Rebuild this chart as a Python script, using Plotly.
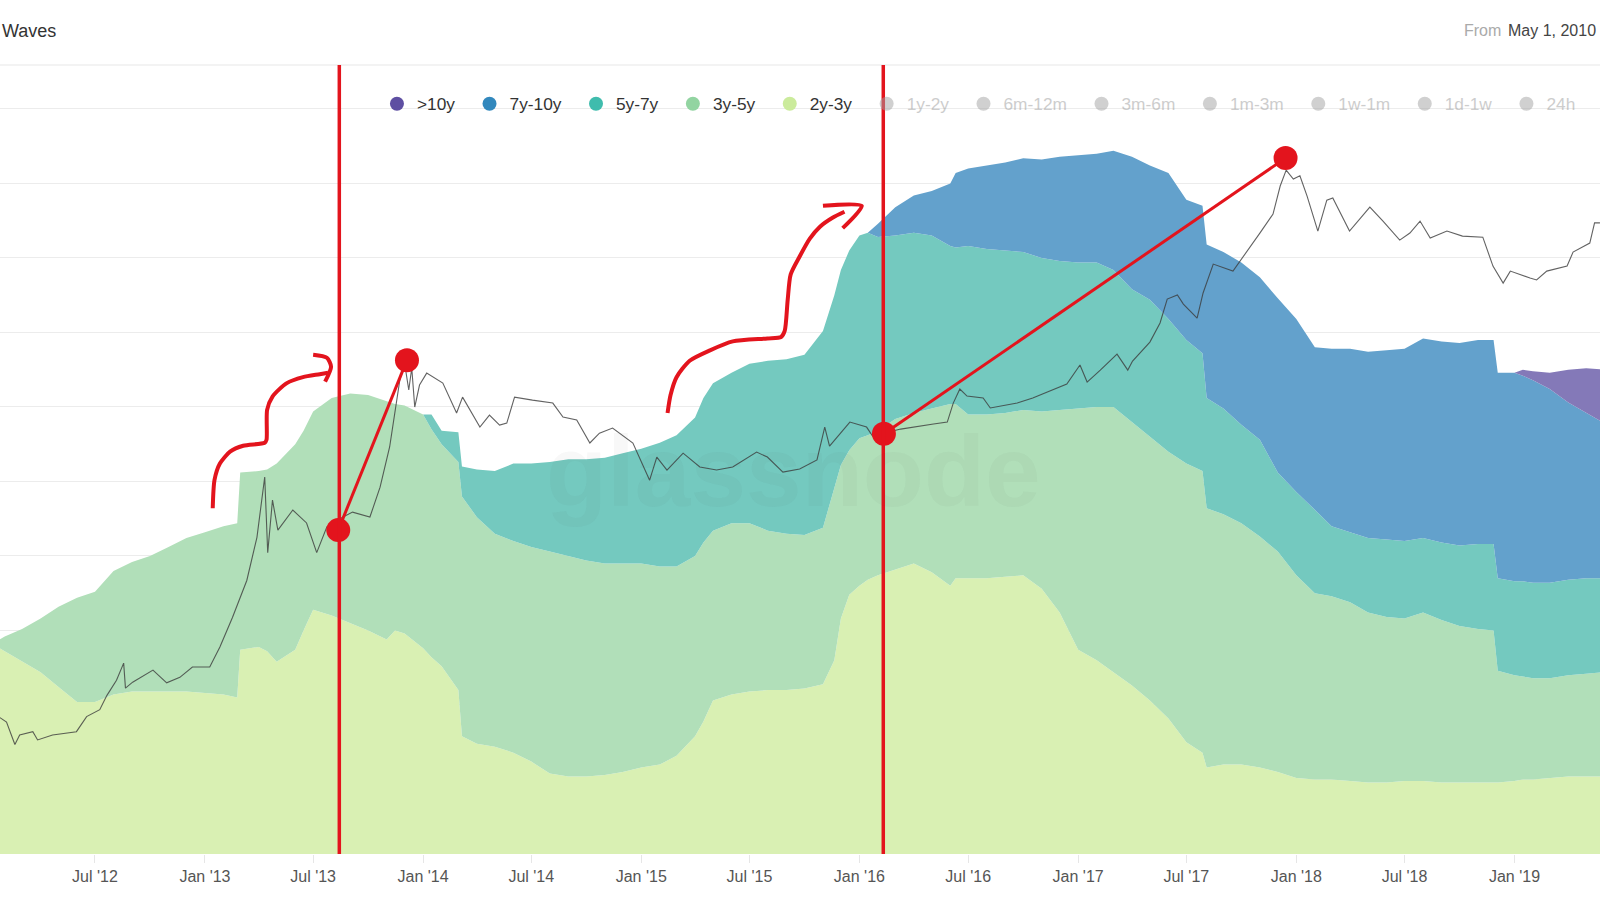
import plotly.graph_objects as go

# ---------------- data ----------------
dates = [
    "2012-01-15", "2012-02-01", "2012-03-01", "2012-04-01", "2012-05-01", "2012-06-01",
    "2012-07-01", "2012-08-01", "2012-09-01", "2012-10-01", "2012-11-01", "2012-12-01",
    "2013-01-01", "2013-02-01", "2013-02-24", "2013-03-01", "2013-04-01", "2013-04-15",
    "2013-05-01", "2013-06-01", "2013-06-15", "2013-07-01", "2013-08-01", "2013-09-01",
    "2013-10-01", "2013-11-01", "2013-11-15", "2013-12-01",
    "2014-01-01", "2014-01-15", "2014-02-01", "2014-03-01", "2014-03-07", "2014-04-01",
    "2014-05-01", "2014-06-01", "2014-07-01", "2014-08-01", "2014-09-01", "2014-10-01",
    "2014-11-01", "2014-12-01",
    "2015-01-01", "2015-02-01", "2015-03-01", "2015-04-01", "2015-04-15", "2015-05-01",
    "2015-06-01", "2015-07-01", "2015-08-01", "2015-09-01", "2015-10-01", "2015-11-01",
    "2015-11-20", "2015-12-01", "2015-12-15",
    "2016-01-01", "2016-01-15", "2016-02-01", "2016-03-01", "2016-04-01", "2016-05-01",
    "2016-06-01", "2016-06-10", "2016-07-01", "2016-08-01", "2016-09-01", "2016-10-01",
    "2016-11-01", "2016-12-01",
    "2017-01-01", "2017-02-01", "2017-03-01", "2017-04-01", "2017-05-01", "2017-06-01",
    "2017-07-01", "2017-07-28", "2017-08-04", "2017-09-01", "2017-10-01", "2017-11-01",
    "2017-12-01",
    "2018-01-01", "2018-02-01", "2018-03-01", "2018-04-01", "2018-05-01", "2018-06-01",
    "2018-07-01", "2018-08-01", "2018-09-01", "2018-10-01", "2018-11-01", "2018-11-27",
    "2018-12-04",
    "2019-01-01", "2019-01-15", "2019-02-01", "2019-03-01", "2019-04-01", "2019-05-01",
    "2019-06-01",
]

# share of supply (%) per age band
v_2y_3y = [
    14.0, 13.6, 12.9, 12.2, 11.2, 10.2, 10.2, 10.7, 10.9, 10.9, 10.9, 10.9,
    10.8, 10.7, 10.5, 13.7, 13.9, 13.6, 12.9, 13.7, 15.0, 16.4, 16.0, 15.5,
    15.0, 14.4, 15.0, 14.8,
    13.8, 13.2, 12.6, 11.0, 7.9, 7.4, 7.2, 6.8, 6.2, 5.4, 5.2, 5.2, 5.3, 5.5,
    5.8, 6.0, 6.6, 7.9, 8.9, 10.3, 10.7, 10.9, 11.0, 11.0, 11.1, 11.4, 13.0, 15.8, 17.4,
    18.0, 18.4, 18.7, 19.1, 19.5, 18.9, 18.0, 18.5, 18.5, 18.5, 18.6, 18.7, 17.8, 16.2,
    13.7, 13.0, 12.2, 11.3, 10.3, 9.1, 7.5, 6.8, 5.8, 6.0, 6.0, 5.8, 5.5,
    5.1, 5.0, 5.0, 4.9, 4.8, 4.8, 4.9, 4.9, 4.8, 4.8, 4.8, 4.8, 4.8,
    4.9, 5.0, 5.0, 5.1, 5.2, 5.2, 5.2,
]
v_3y_5y = [
    0.2, 1.0, 2.2, 3.6, 5.4, 7.0, 7.4, 8.3, 8.7, 9.1, 9.7, 10.3,
    10.8, 11.3, 11.7, 11.9, 11.8, 12.2, 13.3, 13.8, 13.4, 13.3, 14.6, 15.4,
    15.8, 16.0, 15.2, 15.3,
    15.7, 15.3, 14.9, 15.3, 16.1, 15.2, 14.3, 14.2, 14.4, 14.9, 14.8, 14.5, 14.2, 14.0,
    13.7, 13.3, 12.7, 12.1, 12.0, 11.4, 11.5, 11.3, 10.7, 10.5, 10.3, 10.5, 11.6, 10.3, 9.7,
    9.9, 9.7, 9.7, 10.1, 10.1, 11.0, 12.2, 11.7, 11.0, 11.0, 11.0, 11.1, 11.9, 13.6,
    16.2, 17.0, 17.8, 17.7, 17.7, 17.9, 18.7, 18.9, 17.4, 16.8, 16.2, 15.5, 14.8,
    13.6, 12.5, 12.3, 12.0, 11.4, 11.1, 10.9, 11.3, 10.9, 10.5, 10.3, 10.2, 7.5,
    7.1, 6.9, 6.8, 6.7, 6.8, 6.9, 7.0,
]
v_5y_7y = [
    0, 0, 0, 0, 0, 0, 0, 0, 0, 0, 0, 0,
    0, 0, 0, 0, 0, 0, 0, 0, 0, 0, 0, 0,
    0, 0, 0, 0,
    0, 1.0, 0.9, 2.0, 2.0, 3.2, 4.2, 5.2, 5.6, 6.0, 6.5, 6.8, 7.1, 7.4,
    7.7, 8.3, 8.8, 9.3, 9.7, 9.9, 10.1, 10.7, 11.4, 11.7, 12.1, 13.2, 12.9, 13.1, 13.4,
    13.6, 13.6, 13.0, 12.3, 12.1, 11.6, 10.6, 10.5, 11.3, 11.1, 10.9, 10.6, 10.3, 10.0,
    9.8, 9.7, 9.2, 8.9, 9.2, 8.9, 8.3, 7.9, 7.4, 7.1, 6.6, 6.5, 5.3,
    5.6, 5.6, 4.7, 4.7, 5.0, 5.2, 5.2, 5.0, 5.2, 5.4, 5.7, 5.8, 6.2,
    6.3, 6.4, 6.4, 6.4, 6.4, 6.4, 6.3,
]
v_7y_10y = [
    0, 0, 0, 0, 0, 0, 0, 0, 0, 0, 0, 0,
    0, 0, 0, 0, 0, 0, 0, 0, 0, 0, 0, 0,
    0, 0, 0, 0,
    0, 0, 0, 0, 0, 0, 0, 0, 0, 0, 0, 0, 0, 0,
    0, 0, 0, 0, 0, 0, 0, 0, 0, 0, 0, 0, 0, 0, 0,
    0, 0, 0.9, 1.9, 2.5, 3.0, 4.2, 5.0, 5.2, 5.6, 5.9, 6.3, 6.6, 7.0,
    7.2, 7.3, 8.0, 8.9, 9.0, 9.8, 9.4, 9.9, 10.3, 10.5, 10.9, 10.9, 11.7,
    11.6, 10.9, 11.9, 12.3, 12.5, 12.7, 12.9, 13.4, 13.5, 13.6, 13.7, 13.7, 13.8,
    14.0, 13.8, 13.6, 13.0, 11.9, 11.1, 10.4,
]
v_10y_plus = [
    0, 0, 0, 0, 0, 0, 0, 0, 0, 0, 0, 0,
    0, 0, 0, 0, 0, 0, 0, 0, 0, 0, 0, 0,
    0, 0, 0, 0,
    0, 0, 0, 0, 0, 0, 0, 0, 0, 0, 0, 0, 0, 0,
    0, 0, 0, 0, 0, 0, 0, 0, 0, 0, 0, 0, 0, 0, 0,
    0, 0, 0, 0, 0, 0, 0, 0, 0, 0, 0, 0, 0, 0,
    0, 0, 0, 0, 0, 0, 0, 0, 0, 0, 0, 0, 0,
    0, 0, 0, 0, 0, 0, 0, 0, 0, 0, 0, 0, 0,
    0, 0.4, 0.6, 1.1, 2.2, 3.0, 3.6,
]

# BTC price (USD, log axis)
price_dates = [
    "2012-01-24", "2012-02-04", "2012-02-18", "2012-02-26", "2012-03-19", "2012-03-27",
    "2012-04-21", "2012-05-31", "2012-06-17", "2012-07-09", "2012-07-21", "2012-08-06",
    "2012-08-18", "2012-08-21", "2012-09-02", "2012-09-26", "2012-10-06", "2012-10-29",
    "2012-11-20", "2012-12-11", "2013-01-09", "2013-01-26", "2013-02-16", "2013-03-12",
    "2013-03-29", "2013-04-11", "2013-04-16", "2013-04-24", "2013-05-03", "2013-05-28",
    "2013-06-20", "2013-07-07", "2013-07-24", "2013-08-20", "2013-09-05", "2013-10-04",
    "2013-10-21", "2013-11-06", "2013-11-23", "2013-12-01", "2013-12-08", "2013-12-13",
    "2013-12-18", "2013-12-26", "2014-01-07", "2014-02-03", "2014-02-26", "2014-03-08",
    "2014-04-06", "2014-04-22", "2014-05-09", "2014-05-21", "2014-06-03", "2014-07-03",
    "2014-08-06", "2014-08-23", "2014-09-15", "2014-10-07", "2014-10-23", "2014-11-14",
    "2014-12-18", "2015-01-15", "2015-01-27", "2015-02-13", "2015-03-12", "2015-04-09",
    "2015-05-07", "2015-06-03", "2015-07-13", "2015-07-31", "2015-08-26", "2015-09-23",
    "2015-10-22", "2015-11-04", "2015-11-12", "2015-12-16", "2016-01-13", "2016-01-23",
    "2016-03-10", "2016-05-04", "2016-05-27", "2016-06-06", "2016-06-17", "2016-06-29",
    "2016-07-26", "2016-08-07", "2016-09-21", "2016-10-17", "2016-11-15", "2016-12-13",
    "2017-01-04", "2017-01-16", "2017-02-07", "2017-03-07", "2017-03-25", "2017-04-02",
    "2017-05-01", "2017-05-18", "2017-05-30", "2017-06-16", "2017-06-26", "2017-07-19",
    "2017-07-29", "2017-08-15", "2017-09-17", "2017-10-10", "2017-11-01", "2017-11-23",
    "2017-12-05", "2017-12-15", "2017-12-27", "2018-01-07", "2018-01-19", "2018-02-06",
    "2018-02-21", "2018-03-03", "2018-03-20", "2018-03-31", "2018-05-04", "2018-05-26",
    "2018-06-23", "2018-07-10", "2018-07-27", "2018-08-13", "2018-09-10", "2018-10-06",
    "2018-11-09", "2018-11-26", "2018-12-13", "2018-12-25", "2019-01-27", "2019-02-07",
    "2019-02-24", "2019-03-30", "2019-04-09", "2019-05-07", "2019-05-15", "2019-05-24",
]
price_usd = [
    6.5, 6.1, 4.4, 5.05, 5.3, 4.7,
    5.05, 5.3, 6.6, 7.3, 9.0, 11.2,
    14.4, 10.0, 10.9, 12.4, 13.0, 10.8,
    11.7, 13.6, 13.6, 18.2, 28, 48,
    90, 217, 72, 155, 100, 134,
    111, 72, 105, 121, 130, 121,
    187, 336, 891, 1140, 771, 1062,
    601, 828, 986, 853, 551, 695,
    449, 535, 462, 476, 695, 665,
    637, 520, 498, 356, 411, 443,
    356, 207, 290, 240, 307, 251,
    240, 251, 312, 290, 233, 244,
    278, 449, 340, 483, 449, 394,
    436, 469, 483, 637, 782, 706,
    686, 593, 637, 686, 759, 840,
    1109, 865, 1030, 1301, 1030, 1175,
    1550, 2046, 2900, 3076, 2698, 2200,
    3170, 4830, 4360, 5750, 7590, 10010,
    15070, 19000, 16670, 17500, 13010, 7810,
    12270, 12650, 9310, 7810, 11090, 9040,
    6850, 7590, 9040, 7060, 7810, 7260,
    7150, 4690, 3660, 4360, 3940, 3830,
    4360, 4690, 5750, 6560, 8800, 8800,
]

band_names = ["2y-3y", "3y-5y", "5y-7y", "7y-10y", ">10y"]
band_fill = ["#d9f0b3", "#b1dfb9", "#74c9bf", "#63a1cc", "#8479b8"]

legend_names = [">10y", "7y-10y", "5y-7y", "3y-5y", "2y-3y"]
legend_colors = ["#5e4fa2", "#3288bd", "#3fbcad", "#92d4a1", "#cbeb9c"]
hidden_names = ["1y-2y", "6m-12m", "3m-6m", "1m-3m", "1w-1m", "1d-1w", "24h"]

tick_vals = ["2012-07-01", "2013-01-01", "2013-07-01", "2014-01-01", "2014-07-01",
             "2015-01-01", "2015-07-01", "2016-01-01", "2016-07-01", "2017-01-01",
             "2017-07-01", "2018-01-01", "2018-07-01", "2019-01-01"]
tick_text = ["Jul '12", "Jan '13", "Jul '13", "Jan '14", "Jul '14", "Jan '15", "Jul '15",
             "Jan '16", "Jul '16", "Jan '17", "Jul '17", "Jan '18", "Jul '18", "Jan '19"]

# hand-drawn annotation marks
mark_lines_dates = ["2013-08-13 19:00", "2016-02-09 22:00"]
dots1_dates = ["2013-08-12", "2013-12-05"]
dots1_price = [100, 1191]
dots2_dates = ["2016-02-11", "2017-12-14"]
dots2_price = [407, 22650]

arrow1_dates = ["2013-01-14", "2013-01-17", "2013-01-26", "2013-02-12", "2013-03-06",
                "2013-04-11", "2013-04-14", "2013-04-15", "2013-04-24", "2013-05-18",
                "2013-06-14", "2013-07-12", "2013-07-26"]
arrow1_pct = [23.2, 25.1, 26.2, 27.0, 27.4, 27.6, 27.8, 29.8, 30.7, 31.6, 32.0, 32.2, 32.3]
head1_dates = ["2013-07-01", "2013-07-24", "2013-07-31", "2013-07-21"]
head1_pct = [33.5, 33.3, 32.7, 31.7]

arrow2_dates = ["2015-02-14", "2015-02-19", "2015-03-01", "2015-03-23", "2015-04-26",
                "2015-06-03", "2015-07-31", "2015-08-23", "2015-08-29", "2015-09-03",
                "2015-09-08", "2015-09-23", "2015-10-10", "2015-10-27", "2015-11-17",
                "2015-12-07"]
arrow2_pct = [29.6, 30.8, 32.0, 33.1, 33.8, 34.4, 34.6, 34.7, 35.1, 37.2,
              38.9, 40.1, 41.3, 42.1, 42.7, 43.1]
head2_dates = ["2015-11-01", "2016-01-05", "2015-12-04"]
head2_pct = [43.5, 43.5, 42.0]

RED = "#e3141d"
FONT = "Liberation Sans, Arial, sans-serif"
NB = "\u00a0" * 2

# ---------------- figure ----------------
fig = go.Figure()

for name, vals, col in zip(band_names, [v_2y_3y, v_3y_5y, v_5y_7y, v_7y_10y, v_10y_plus], band_fill):
    fig.add_trace(go.Scatter(
        x=dates, y=vals, name=name, mode="lines", stackgroup="hodl",
        line=dict(width=0, color=col), fillcolor=col, showlegend=False,
        hoverinfo="skip",
    ))

# hand-drawn arrows (percent axis)
for xs, ys in [(arrow1_dates, arrow1_pct), (head1_dates, head1_pct),
               (arrow2_dates, arrow2_pct), (head2_dates, head2_pct)]:
    fig.add_trace(go.Scatter(
        x=xs, y=ys, mode="lines", showlegend=False, hoverinfo="skip",
        line=dict(color=RED, width=4, shape="spline", smoothing=0.7),
    ))

# price line
fig.add_trace(go.Scatter(
    x=price_dates, y=price_usd, yaxis="y2", mode="lines", showlegend=False,
    line=dict(color="#3c3c3c", width=1.1), opacity=0.8, hoverinfo="skip",
))

# red dots + connectors
for xs, ys in [(dots1_dates, dots1_price), (dots2_dates, dots2_price)]:
    fig.add_trace(go.Scatter(
        x=xs, y=ys, yaxis="y2", mode="lines+markers", showlegend=False,
        line=dict(color=RED, width=3), marker=dict(color=RED, size=24),
        hoverinfo="skip",
    ))

# legend entries
for n, c in zip(legend_names, legend_colors):
    fig.add_trace(go.Scatter(
        x=[None], y=[None], mode="markers", name=n + NB,
        marker=dict(size=14, color=c),
    ))
for n in hidden_names:
    fig.add_trace(go.Scatter(
        x=[None], y=[None], mode="markers",
        name="<span style='color:#9c9c9c'>" + n + "</span>" + NB,
        marker=dict(size=14, color="#a2a2a2"), visible="legendonly",
    ))

shapes = [
    dict(type="line", xref="paper", yref="paper", x0=0, x1=1, y0=1, y1=1,
         line=dict(color="#e8e8e8", width=1.2), layer="above"),
]
for d in mark_lines_dates:
    shapes.append(dict(type="line", xref="x", yref="paper", x0=d, x1=d, y0=0, y1=1,
                       line=dict(color=RED, width=3.5), layer="above"))

annotations = [
    dict(text="Waves", xref="paper", yref="paper", x=0, y=1.0437, xanchor="left",
         yanchor="middle", showarrow=False, font=dict(size=18, color="#333333", family=FONT)),
    dict(text="From", xref="paper", yref="paper", x=0.9140, y=1.0437, xanchor="left",
         yanchor="middle", showarrow=False, font=dict(size=16, color="#aaaaaa", family=FONT)),
    dict(text="May 1, 2010", xref="paper", yref="paper", x=0.9988, y=1.0437, xanchor="right",
         yanchor="middle", showarrow=False, font=dict(size=16, color="#444444", family=FONT)),
    dict(text="<b>glassnode</b>", xref="paper", yref="paper", x=0.496, y=0.485,
         xanchor="center", yanchor="middle", showarrow=False,
         font=dict(size=100, color="rgba(70,70,70,0.04)", family=FONT)),
]

fig.update_layout(
    width=1600, height=900,
    margin=dict(l=0, r=0, t=65, b=46, autoexpand=False),
    paper_bgcolor="white", plot_bgcolor="white",
    font=dict(family=FONT, color="#333333"),
    showlegend=True,
    legend=dict(orientation="h", xref="container", yref="container",
                x=0.2356, xanchor="left", y=0.8845, yanchor="middle",
                bgcolor="rgba(0,0,0,0)", font=dict(size=17.3, color="#333333", family=FONT),
                traceorder="normal"),
    xaxis=dict(type="date", range=["2012-01-24 02:00", "2019-05-24 02:00"],
               tickvals=tick_vals, ticktext=tick_text, showgrid=False, zeroline=False,
               showline=False, ticks="outside", ticklen=8, tickcolor="#e6e6e6",
               automargin=False,
               tickfont=dict(size=16, color="#555555", family=FONT)),
    yaxis=dict(range=[0, 52.95], tick0=0, dtick=5, showticklabels=False, ticks="",
               gridcolor="#ececec", gridwidth=1, zeroline=False, showline=False,
               automargin=False),
    yaxis2=dict(type="log", range=[-0.05, 4.944], overlaying="y", visible=False),
    shapes=shapes,
    annotations=annotations,
)

fig.write_html(
    "out.html",
    config={"displayModeBar": False},
    post_script="document.body.style.margin='0px';document.body.style.overflow='hidden';",
)
